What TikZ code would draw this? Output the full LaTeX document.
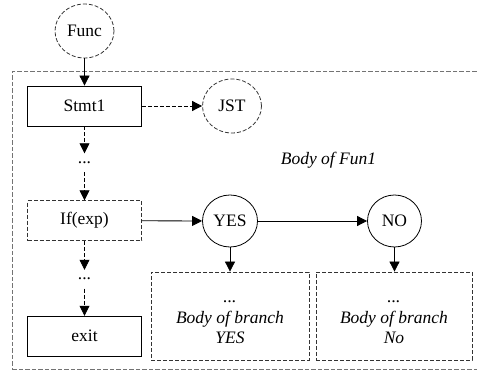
\documentclass[tikz,border=0pt]{standalone}
\usepackage{fontspec}
\setmainfont{Liberation Serif}
\usetikzlibrary{arrows.meta,shapes.geometric}
\begin{document}
\begin{tikzpicture}[x=1pt,y=-1pt,
  font=\fontsize{17.5}{20.5}\selectfont,
  line width=0.8pt,
  tip/.style={-{Triangle[length=10pt,width=10pt]}},
  dsh/.style={dash pattern=on 4pt off 2pt},
  stmtbox/.style={draw, minimum width=114pt, minimum height=40pt, inner sep=0pt},
  dbox/.style={stmtbox, dsh, draw=black!80},
  dcirc/.style={ellipse, draw=black!80, dsh, minimum width=59pt, minimum height=54pt, inner sep=0pt},
  circ/.style={ellipse, draw, minimum width=55pt, minimum height=52pt, inner sep=0pt},
  dotsnode/.style={inner xsep=0pt, inner ysep=8pt, anchor=base},
  brbox/.style={draw=black!80, dsh, minimum height=88pt, inner sep=0pt},
  brtext/.style={align=center, font=\fontsize{17.5}{20.5}\selectfont\itshape, inner sep=0pt},
  outerbox/.style={draw=black!55, dash pattern=on 4.5pt off 2pt, inner sep=0pt}
]
\useasboundingbox (0,0) rectangle (477,374);
% outer container
\node[outerbox, minimum width=467pt, minimum height=297.5pt, anchor=north west] (body) at (12,71.5) {};
\node[font=\fontsize{17.5}{20.5}\selectfont\itshape] (fun1) at (328.5,160) {Body of Fun1};

\node[dcirc] (func) at (84.5,31) {Func};
\node[stmtbox] (s1) at (84.5,106) {Stmt1};
\node[dcirc] (jst) at (232,106) {JST};
\node[dotsnode] (d1) at (84.5,163.5) {...};
\node[dbox] (if) at (84.5,220.7) {If(exp)};
\node[circ] (yes) at (230,221) {YES};
\node[circ, minimum width=54pt] (no) at (394.5,221) {NO};
\node[dotsnode] (d2) at (84.5,280) {...};
\node[stmtbox] (exit) at (84.5,336.2) {exit};

\node[brbox, minimum width=158pt] (by) at (230,316) {};
\node[brbox, minimum width=156pt] (bn) at (394,316) {};
\node[brtext] (ty) at (230,322.6) {...\\Body of branch\\YES};
\node[brtext] (tn) at (394,322.6) {...\\Body of branch\\No};

\draw[tip] (func) -- (s1);
\draw[tip, dsh] (s1) -- (jst);
\draw[tip, dsh] (s1) -- (d1);
\draw[tip, dsh] (d1) -- (if);
\draw[tip] (if) -- (yes);
\draw[tip] (yes) -- (no);
\draw[tip] (yes) -- (yes |- by.north);
\draw[tip] (no) -- (no |- bn.north);
\draw[tip, dsh] (if) -- (d2);
\draw[tip, dsh] (d2) -- (exit);
\end{tikzpicture}
\end{document}
